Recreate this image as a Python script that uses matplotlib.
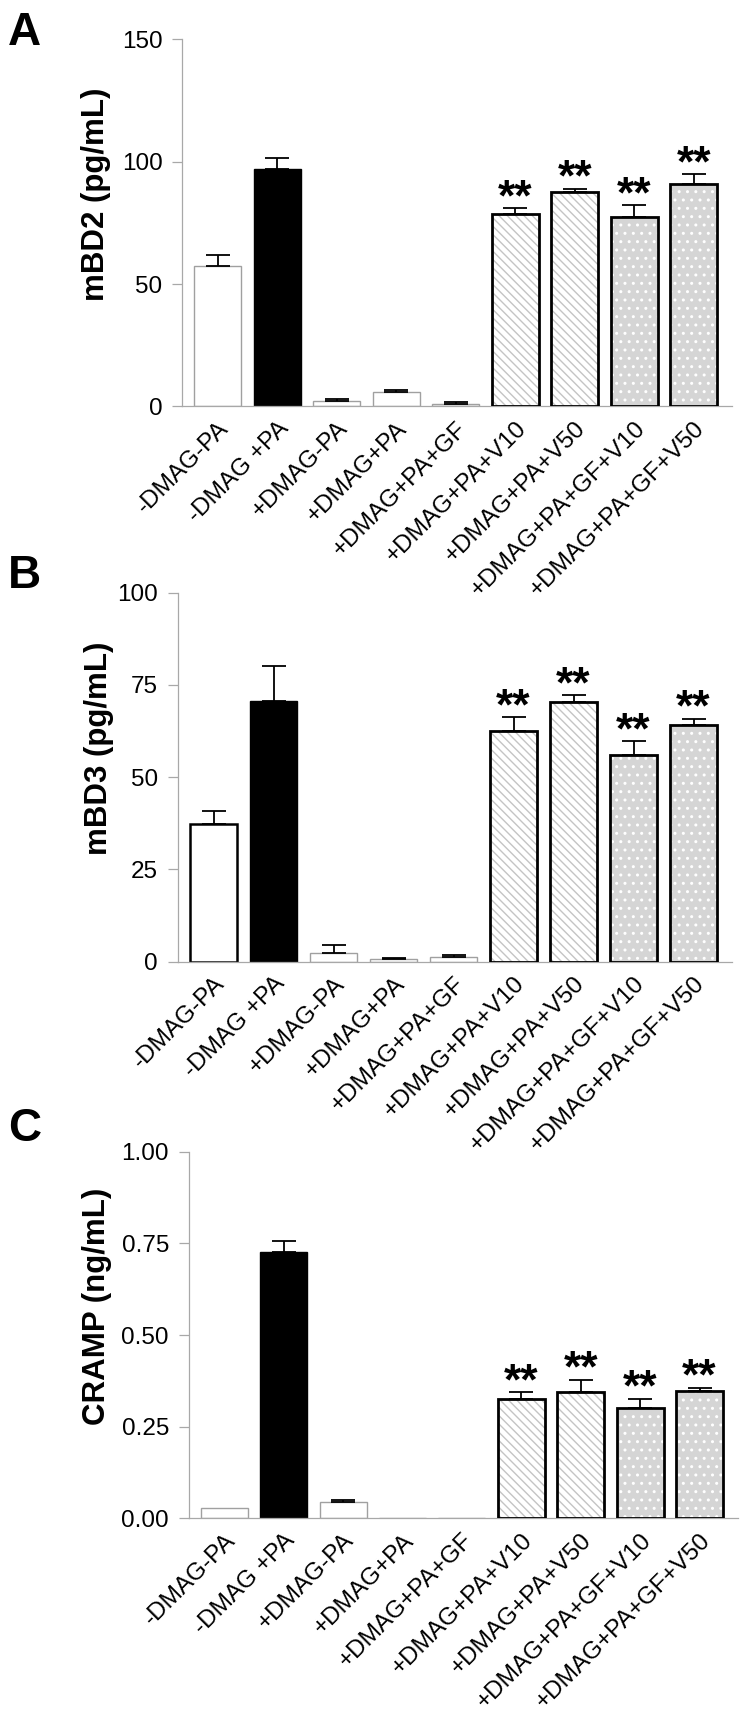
import matplotlib
matplotlib.use('Agg')
import matplotlib.pyplot as plt
import numpy as np

plt.rcParams['font.family'] = ['Liberation Sans', 'DejaVu Sans']
plt.rcParams['hatch.linewidth'] = 1.0

# ---------------- data ----------------
categories = ['-DMAG-PA', '-DMAG +PA', '+DMAG-PA', '+DMAG+PA', '+DMAG+PA+GF',
              '+DMAG+PA+V10', '+DMAG+PA+V50', '+DMAG+PA+GF+V10', '+DMAG+PA+GF+V50']

mbd2_mean = [57.5, 97.0, 2.4, 6.0, 1.2, 78.8, 87.6, 77.3, 90.9]
mbd2_err = [4.4, 4.6, 0.8, 0.9, 0.6, 2.3, 1.4, 4.9, 4.1]

mbd3_mean = [37.2, 70.6, 2.3, 0.6, 1.3, 62.4, 70.4, 56.1, 64.1]
mbd3_err = [3.7, 9.5, 2.2, 0.3, 0.5, 3.8, 1.8, 3.6, 1.8]

cramp_mean = [0.029, 0.726, 0.044, 0.0, 0.0, 0.325, 0.345, 0.302, 0.348]
cramp_err = [0.0, 0.030, 0.005, 0.0, 0.0, 0.019, 0.033, 0.024, 0.008]

stars = ['', '', '', '', '', '**', '**', '**', '**']

mbd2_ticks = [0, 50, 100, 150]
mbd3_ticks = [0, 25, 50, 75, 100]
cramp_ticks = [0.0, 0.25, 0.50, 0.75, 1.00]
cramp_ticklabels = ['0.00', '0.25', '0.50', '0.75', '1.00']

# ---------------- styles ----------------
fill_kind = ['white', 'black', 'white', 'white', 'white', 'hatch', 'hatch', 'dots', 'dots']
GRAY_EDGE = '#a0a0a0'
AXIS_GRAY = '#a8a8a8'

W, H = 744, 1719
fig = plt.figure(figsize=(W / 100, H / 100), dpi=100)


def make_axes(left_px, pitch_px, c0_px, ybot_px, ytop_px):
    x0, x1 = -0.6, 8.64
    lp = c0_px + x0 * pitch_px
    wp = (x1 - x0) * pitch_px
    ax = fig.add_axes([lp / W, 1 - ybot_px / H, wp / W, (ybot_px - ytop_px) / H])
    ax.set_xlim(x0, x1)
    return ax


def draw_panel(ax, means, errs, yticks, ylim, ticklabels, ylabel, thick_first):
    x = np.arange(len(categories))
    width = 0.79
    for i, (m, k) in enumerate(zip(means, fill_kind)):
        if k == 'black':
            ax.bar(x[i], m, width, facecolor='black', edgecolor='black', linewidth=1.0, zorder=2)
        elif k == 'white':
            if i == 0 and thick_first:
                ax.bar(x[i], m, width, facecolor='white', edgecolor='black', linewidth=1.8, zorder=2)
            else:
                ax.bar(x[i], m, width, facecolor='white', edgecolor=GRAY_EDGE, linewidth=1.0, zorder=2)
        elif k == 'hatch':
            ax.bar(x[i], m, width, facecolor='white', edgecolor='#c4c4c4',
                   hatch='\\\\\\\\', linewidth=0, zorder=2)
            ax.bar(x[i], m, width, facecolor='none', edgecolor='black', linewidth=2.0, zorder=3)
        else:
            ax.bar(x[i], m, width, facecolor='#d5d5d5', edgecolor='white',
                   hatch='..', linewidth=0, zorder=2)
            ax.bar(x[i], m, width, facecolor='none', edgecolor='black', linewidth=2.0, zorder=3)

    errs = np.asarray(errs)
    means = np.asarray(means)
    mask = errs > 0
    ax.errorbar(x[mask], means[mask], yerr=[np.zeros(mask.sum()), errs[mask]], fmt='none',
                ecolor='black', elinewidth=1.3, capsize=8.6, capthick=1.3, zorder=4)

    for i, s in enumerate(stars):
        if s:
            ax.annotate(s, xy=(x[i], means[i] + errs[i]), xytext=(0, -1.5),
                        textcoords='offset points', ha='center', va='baseline',
                        fontsize=32, fontweight='bold', zorder=5)

    ax.set_ylim(*ylim)
    ax.set_yticks(yticks)
    if ticklabels is not None:
        ax.set_yticklabels(ticklabels)
    ax.set_xticks(x)
    ax.set_xticklabels(categories, rotation=45, ha='right', rotation_mode='anchor')
    for sp in ['top', 'right']:
        ax.spines[sp].set_visible(False)
    for sp in ['left', 'bottom']:
        ax.spines[sp].set_color(AXIS_GRAY)
        ax.spines[sp].set_linewidth(0.9)
    ax.tick_params(axis='y', length=7.2, width=0.9, color=AXIS_GRAY, pad=7, labelsize=17.5)
    ax.tick_params(axis='x', length=0, pad=8, labelsize=17.5)
    ax.patch.set_alpha(0)


axA = make_axes(182, 59.5, 217.8, 406.5, 39.3)
draw_panel(axA, mbd2_mean, mbd2_err, mbd2_ticks, (0, 150), None, 'mBD2 (pg/mL)', False)
axB = make_axes(178, 60.0, 213.5, 961.7, 592.7)
draw_panel(axB, mbd3_mean, mbd3_err, mbd3_ticks, (0, 100), None, 'mBD3 (pg/mL)', True)
axC = make_axes(187, 59.4, 224.3, 1518.3, 1151.7)
draw_panel(axC, cramp_mean, cramp_err, cramp_ticks, (0, 1.0), cramp_ticklabels, 'CRAMP (ng/mL)', False)

# y labels
for (xc, yc, txt) in [(96, 194, 'mBD2 (pg/mL)'), (99.5, 748, 'mBD3 (pg/mL)'), (97, 1306, 'CRAMP (ng/mL)')]:
    fig.text(xc / W, 1 - yc / H, txt, rotation=90, ha='center', va='center',
             fontsize=22.5, fontweight='bold')

# panel letters
for (xl, yb, letter) in [(8, 45, 'A'), (8, 588, 'B'), (8, 1141, 'C')]:
    fig.text(xl / W, 1 - yb / H, letter, ha='left', va='baseline', fontsize=33, fontweight='bold')

fig.savefig('out.png', dpi=100, facecolor='white')
